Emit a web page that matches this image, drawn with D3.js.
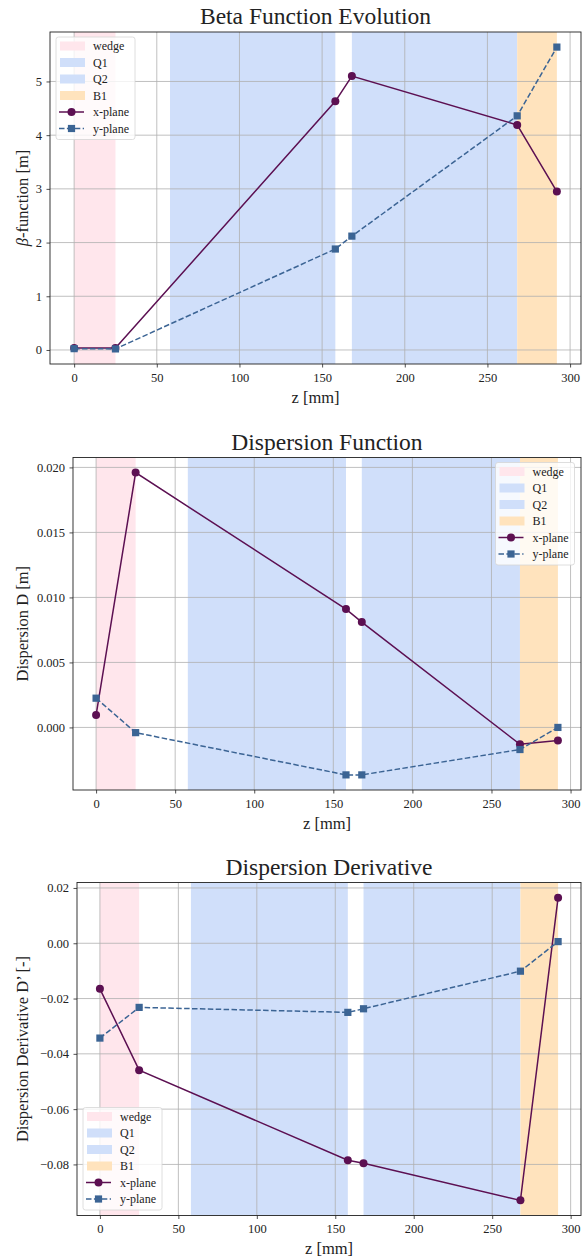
<!DOCTYPE html>
<html>
<head>
<meta charset="utf-8">
<script src="https://d3js.org/d3.v7.min.js"></script>
<style>
  body { margin: 0; background: #fff; }
  svg text { font-family: "Liberation Serif", "DejaVu Serif", serif; fill: #222; }
</style>
</head>
<body>
<div id="chart"></div>
<script>

// positions along the beamline [mm]
var zPos = [0, 25, 158, 168, 268, 292]

// beta function [m]
var betaX = [0.035, 0.035, 4.63, 5.10, 4.19, 2.95]
var betaY = [0.025, 0.02, 1.88, 2.12, 4.36, 5.64]

// dispersion [m]
var dispX = [0.00095, 0.0196, 0.0091, 0.0081, -0.0013, -0.0010]
var dispY = [0.00225, -0.0004, -0.00365, -0.00365, -0.0017, 0.0000]

// dispersion derivative [-]
var dprimeX = [-0.0165, -0.0459, -0.0785, -0.0796, -0.0930, 0.0165]
var dprimeY = [-0.0343, -0.0232, -0.0250, -0.0237, -0.0101, 0.0006]

// element regions
var regionNames = ["wedge", "Q1", "Q2", "B1"]
var regionStart = [0, 58, 168, 268]
var regionEnd = [25, 158, 268, 292]
var regionColors = ["#ffe6ec", "#d0dffa", "#d0dffa", "#ffe3bd"]

var xTicks = [0, 50, 100, 150, 200, 250, 300]
var betaTicks = [0, 1, 2, 3, 4, 5]
var dispTicks = [0, 0.005, 0.010, 0.015, 0.020]
var dprimeTicks = [-0.08, -0.06, -0.04, -0.02, 0, 0.02]

var colX = "#5c1052"
var colY = "#3b6494"
var serif = '"Liberation Serif", "DejaVu Serif", serif'

var W = 587, H = 1258
var svg = d3.select("#chart").append("svg")
  .attr("width", W).attr("height", H)

var panels = [
  { title: "Beta Function Evolution", ylab: null, xs: betaX, ys: betaY, ticks: betaTicks, fmt: d3.format("d"),
    box: {l: 50, r: 581, t: 32, b: 364}, legend: "ul" },
  { title: "Dispersion Function", ylab: "Dispersion D [m]", xs: dispX, ys: dispY, ticks: dispTicks, fmt: d3.format(".3f"),
    box: {l: 73, r: 581, t: 457.5, b: 790}, legend: "ur" },
  { title: "Dispersion Derivative", ylab: "Dispersion Derivative D’ [-]", xs: dprimeX, ys: dprimeY, ticks: dprimeTicks, fmt: d3.format(".2f"),
    box: {l: 77, r: 581, t: 882.5, b: 1215.5}, legend: "ll" }
]

function pad(ext) {
  var d = (ext[1] - ext[0]) * 0.05
  return [ext[0] - d, ext[1] + d]
}

panels.forEach(function (p, i) {
  var b = p.box
  var g = svg.append("g").attr("font-family", serif)

  var x = d3.scaleLinear().domain(pad(d3.extent(zPos))).range([b.l, b.r])
  var y = d3.scaleLinear().domain(pad(d3.extent(p.xs.concat(p.ys)))).range([b.b, b.t])

  var clipId = "clip" + i
  svg.append("clipPath").attr("id", clipId)
    .append("rect").attr("x", b.l).attr("y", b.t).attr("width", b.r - b.l).attr("height", b.b - b.t)

  var plot = g.append("g").attr("clip-path", "url(#" + clipId + ")")

  // element regions
  plot.selectAll(".region")
    .data(regionNames)
    .enter().append("rect")
    .attr("x", function (d, k) { return x(regionStart[k]) })
    .attr("width", function (d, k) { return x(regionEnd[k]) - x(regionStart[k]) })
    .attr("y", b.t).attr("height", b.b - b.t)
    .attr("fill", function (d, k) { return regionColors[k] })

  // grid
  plot.selectAll(".gx").data(xTicks).enter().append("line")
    .attr("x1", function (d) { return x(d) }).attr("x2", function (d) { return x(d) })
    .attr("y1", b.t).attr("y2", b.b)
    .attr("stroke", "#b0b0b0").attr("stroke-width", 0.8)
  plot.selectAll(".gy").data(p.ticks).enter().append("line")
    .attr("y1", function (d) { return y(d) }).attr("y2", function (d) { return y(d) })
    .attr("x1", b.l).attr("x2", b.r)
    .attr("stroke", "#b0b0b0").attr("stroke-width", 0.8)

  var line = d3.line().x(function (d, k) { return x(zPos[k]) }).y(function (d) { return y(d) })

  // x-plane
  plot.append("path").datum(p.xs).attr("d", line)
    .attr("fill", "none").attr("stroke", colX).attr("stroke-width", 1.5)
  plot.selectAll(".mx").data(p.xs).enter().append("circle")
    .attr("cx", function (d, k) { return x(zPos[k]) }).attr("cy", function (d) { return y(d) })
    .attr("r", 4).attr("fill", colX)

  // y-plane
  plot.append("path").datum(p.ys).attr("d", line)
    .attr("fill", "none").attr("stroke", colY).attr("stroke-width", 1.5)
    .attr("stroke-dasharray", "5.5,2.4")
  plot.selectAll(".my").data(p.ys).enter().append("rect")
    .attr("x", function (d, k) { return x(zPos[k]) - 3.6 }).attr("y", function (d) { return y(d) - 3.6 })
    .attr("width", 7.2).attr("height", 7.2).attr("fill", colY)

  // axes
  var xa = g.append("g").attr("transform", "translate(0," + b.b + ")")
    .call(d3.axisBottom(x).tickValues(xTicks).tickSize(3.5).tickPadding(5.5).tickFormat(d3.format("d")))
  var ya = g.append("g").attr("transform", "translate(" + b.l + ",0)")
    .call(d3.axisLeft(y).tickValues(p.ticks).tickSize(3.5).tickPadding(4.5).tickFormat(p.fmt))
  ;[xa, ya].forEach(function (a) {
    a.attr("font-family", serif).attr("font-size", 12.5)
    a.select(".domain").remove()
    a.selectAll(".tick line").attr("stroke", "#222").attr("stroke-width", 0.8)
    a.selectAll("text").attr("fill", "#222")
  })

  // frame
  g.append("rect").attr("x", b.l).attr("y", b.t).attr("width", b.r - b.l).attr("height", b.b - b.t)
    .attr("fill", "none").attr("stroke", "#222").attr("stroke-width", 0.9)

  // title and labels
  g.append("text").attr("x", (b.l + b.r) / 2).attr("y", b.t - 8)
    .attr("text-anchor", "middle").attr("font-size", 23.5).text(p.title)
  g.append("text").attr("x", (b.l + b.r) / 2).attr("y", b.b + 33)
    .attr("text-anchor", "middle").attr("dominant-baseline", "central")
    .attr("font-size", 16.5).text("z [mm]")

  var yl = g.append("text")
    .attr("transform", "translate(22," + ((b.t + b.b) / 2) + ") rotate(-90)")
    .attr("text-anchor", "middle").attr("dominant-baseline", "central")
    .attr("font-size", 16.5)
  if (p.ylab) {
    yl.text(p.ylab)
  } else {
    yl.append("tspan").attr("font-style", "italic").text("β")
    yl.append("tspan").text("-function [m]")
  }

  // legend
  var lw = 79, lh = 102.5
  var lx = p.legend === "ur" ? b.r - 6.5 - lw : b.l + 6
  var ly = p.legend === "ll" ? b.b - 5.5 - lh : b.t + 5
  var lg = g.append("g").attr("transform", "translate(" + lx + "," + ly + ")")
  lg.append("rect").attr("width", lw).attr("height", lh).attr("rx", 2.5)
    .attr("fill", "#fff").attr("fill-opacity", 0.8).attr("stroke", "#d6d6d6").attr("stroke-width", 0.8)

  var entries = regionNames.map(function (n, k) { return {name: n, kind: "patch", color: regionColors[k]} })
  entries.push({name: "x-plane", kind: "lineX"})
  entries.push({name: "y-plane", kind: "lineY"})

  entries.forEach(function (e, k) {
    var cy = 9 + k * 16.5
    if (e.kind === "patch") {
      lg.append("rect").attr("x", 4).attr("y", cy - 4.5).attr("width", 25).attr("height", 9)
        .attr("fill", e.color)
    } else if (e.kind === "lineX") {
      lg.append("line").attr("x1", 3).attr("x2", 28).attr("y1", cy).attr("y2", cy)
        .attr("stroke", colX).attr("stroke-width", 1.5)
      lg.append("circle").attr("cx", 15.5).attr("cy", cy).attr("r", 4).attr("fill", colX)
    } else {
      lg.append("line").attr("x1", 3).attr("x2", 28).attr("y1", cy).attr("y2", cy)
        .attr("stroke", colY).attr("stroke-width", 1.5).attr("stroke-dasharray", "5.5,2.4")
      lg.append("rect").attr("x", 15.5 - 3.6).attr("y", cy - 3.6).attr("width", 7.2).attr("height", 7.2)
        .attr("fill", colY)
    }
    lg.append("text").attr("x", 37).attr("y", cy).attr("dominant-baseline", "central")
      .attr("font-size", 12).text(e.name)
  })
})

</script>
</body>
</html>
